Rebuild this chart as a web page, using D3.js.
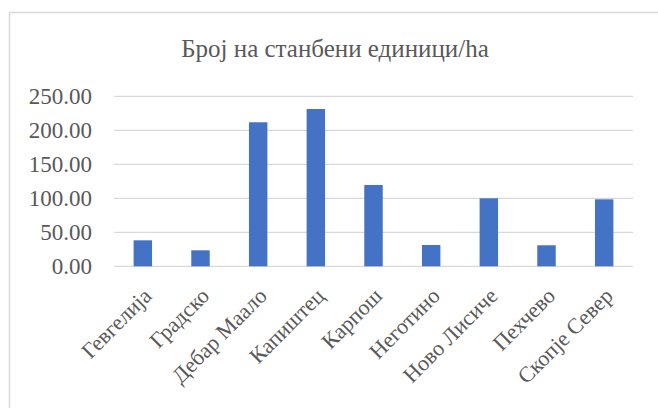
<!DOCTYPE html>
<html>
<head>
<meta charset="utf-8">
<script src="https://cdn.jsdelivr.net/npm/d3@7"></script>
<style>
  @font-face { font-family: "ChartSerif"; src: local("Liberation Serif"), local("LiberationSerif"), local("Liberation Serif Regular"), local("Times New Roman"), local("Tinos"), local("FreeSerif"); }
</style>
</head>
<body style="margin:0">
<svg id="s" width="658" height="408" font-family="Times New Roman"></svg>
<script>
const categories = ["Гевгелија", "Градско", "Дебар Маало", "Капиштец", "Карпош", "Неготино", "Ново Лисиче", "Пехчево", "Скопје Север"];
const values = [38.2, 23.5, 211.8, 231.3, 119.6, 31.3, 100.0, 30.9, 98.5];
const yTicks = [0, 50, 100, 150, 200, 250];
const title = "Број на станбени единици/ha";

const svg = d3.select("#s");
const textColor = "#595959";
const serif = '"Liberation Serif", "Times New Roman", "ChartSerif", Tinos, FreeSerif';

svg.append("rect")
  .attr("x", 9.5).attr("y", 12.5)
  .attr("width", 700).attr("height", 500)
  .attr("fill", "none").attr("stroke", "#d9d9d9").attr("stroke-width", 1.5);

const plot = { left: 114, right: 633, top: 96.3, bottom: 266.3 };

const x = d3.scaleBand().domain(categories).range([plot.left, plot.right]).paddingInner(0.68).paddingOuter(0.34);
const y = d3.scaleLinear().domain([0, 250]).range([plot.bottom, plot.top]);

svg.append("g").selectAll("line").data(yTicks).join("line")
  .attr("x1", plot.left).attr("x2", plot.right)
  .attr("y1", d => y(d)).attr("y2", d => y(d))
  .attr("stroke", "#d9d9d9").attr("stroke-width", 1.3);

// y tick labels
svg.append("g").selectAll("text").data(yTicks).join("text")
  .attr("x", plot.left - 22).attr("y", d => y(d)).attr("dy", "0.32em")
  .attr("text-anchor", "end").attr("font-size", 23).attr("fill", textColor)
  .style("font-family", d => serif)
  .text(d3.format(".2f"));

svg.append("g").selectAll("rect").data(values).join("rect")
  .attr("x", (d, i) => x(categories[i]))
  .attr("width", x.bandwidth())
  .attr("y", d => y(d))
  .attr("height", d => y(0) - y(d))
  .attr("fill", "#4472C4");

// category labels
svg.append("g").selectAll("text").data(categories).join("text")
  .attr("text-anchor", "end").attr("font-size", 22).attr("fill", textColor)
  .style("font-family", d => serif)
  .attr("transform", d => `translate(${x(d) + x.bandwidth() / 2 + 10},${plot.bottom + 31}) rotate(-45)`)
  .text(d => d);

svg.append("g").selectAll("text").data([title]).join("text")
  .attr("x", 335).attr("y", 57)
  .attr("text-anchor", "middle").attr("font-size", 25).attr("fill", textColor)
  .style("font-family", d => serif)
  .text(d => d);
</script>
</body>
</html>
